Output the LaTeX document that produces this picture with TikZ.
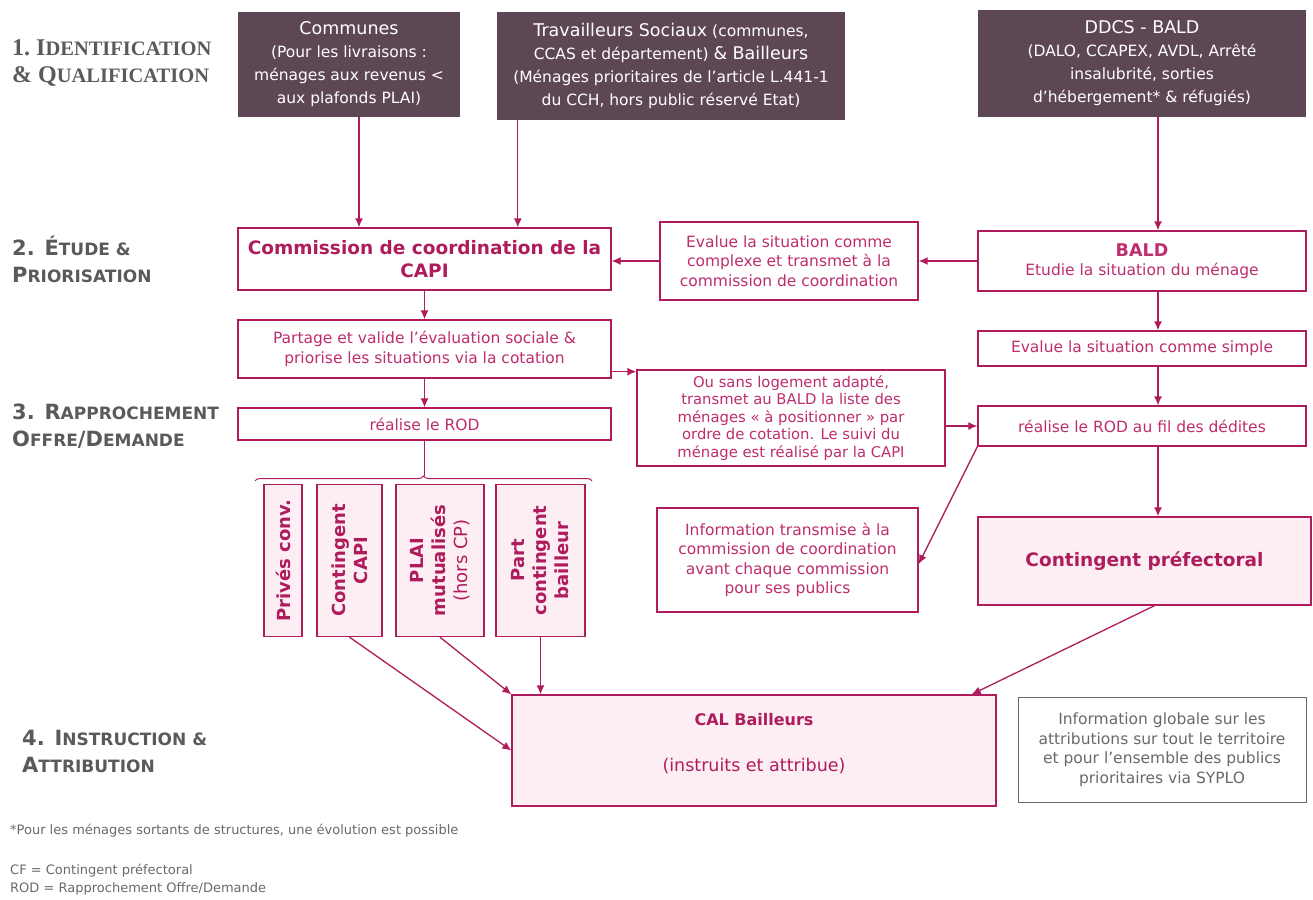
\documentclass[tikz,border=0pt]{standalone}
\usepackage{fontspec}
\setmainfont{DejaVu Sans}
\newfontfamily\titrefont{Liberation Serif}
\usetikzlibrary{arrows.meta,decorations.pathreplacing}

\definecolor{prune}{RGB}{94,71,84}
\definecolor{capi}{RGB}{175,28,92}
\definecolor{capitexte}{RGB}{190,45,110}
\definecolor{rosepale}{RGB}{253,238,244}
\definecolor{grisetape}{RGB}{90,90,90}
\definecolor{grisinfo}{RGB}{105,105,105}

% petites capitales simulees
\newcommand\pc[2]{#1{\fontsize{17}{18}\selectfont#2}}
\newcommand\pcs[2]{#1{\fontsize{20.5}{21}\selectfont#2}}
\newcommand\grand{\fontsize{17.5}{23}\selectfont}
\newcommand\gras{\bfseries\fontsize{17.5}{22}\selectfont}

\tikzset{
  source/.style={fill=prune, text=white, align=center, inner sep=0pt, font=\fontsize{15.5}{23}\selectfont},
  etape/.style={draw=capi, line width=1.3pt, fill=white, text=capitexte, align=center, inner sep=0pt, font=\fontsize{15.5}{19.5}\selectfont},
  rose/.style={etape, fill=rosepale, text=capi, font=\gras},
  vertical/.style={rose, rotate=90, minimum width=152pt, font=\bfseries\fontsize{18}{22}\selectfont},
  titre/.style={anchor=west, align=left, text=grisetape, font=\bfseries\fontsize{21}{27}\selectfont, inner sep=0pt},
  lien/.style={draw=capi, line width=1.3pt, -{Latex[length=9pt,width=8pt]}},
  note/.style={anchor=west, text=grisinfo, font=\fontsize{13}{15}\selectfont, inner sep=0pt}
}

\begin{document}
\begin{tikzpicture}[x=1pt,y=-1pt]
\useasboundingbox (0,0) rectangle (1313,899);

% etapes
\node[titre, font=\titrefont\bfseries\fontsize{24}{27}\selectfont] (t1) at (12,63)
  {1.~\pcs{I}{DENTIFICATION}\\\pcs{\&~Q}{UALIFICATION}};
\node[titre] (t2) at (12,259) {2. \pc{É}{TUDE \&}\\\pc{P}{RIORISATION}};
\node[titre] (t3) at (12,426) {3. \pc{R}{APPROCHEMENT}\\\pc{O}{FFRE}/\pc{D}{EMANDE}};
\node[titre] (t4) at (22,751) {4. \pc{I}{NSTRUCTION \&}\\\pc{A}{TTRIBUTION}};

% sources
\node[source, minimum width=222pt, minimum height=105pt] (com) at (349,64.5)
  {{\grand Communes}\\(Pour les livraisons :\\ménages aux revenus <\\aux plafonds PLAI)};
\node[source, minimum width=348pt, minimum height=108pt] (trav) at (671,66)
  {{\grand Travailleurs Sociaux} (communes,\\CCAS et département) {\grand\& Bailleurs}\\(Ménages prioritaires de l'article L.441-1\\du CCH, hors public réservé Etat)};
\node[source, minimum width=328pt, minimum height=107pt] (ddcs) at (1142,63.5)
  {{\grand DDCS - BALD}\\(DALO, CCAPEX, AVDL, Arrêté\\insalubrité, sorties\\d'hébergement* \& réfugiés)};

% colonne CAPI
\node[etape, minimum width=373pt, minimum height=62pt, text=capi, font=\bfseries\fontsize{18.5}{23}\selectfont] (commission) at (424.5,259)
  {Commission de coordination de la\\CAPI};
\node[etape, minimum width=373pt, minimum height=58pt] (partage) at (424.5,349)
  {Partage et valide l'évaluation sociale \&\\priorise les situations via la cotation};
\node[etape, minimum width=373pt, minimum height=32pt] (rod) at (424.5,424) {réalise le ROD};

% colonne centrale
\node[etape, minimum width=258pt, minimum height=78pt] (complexe) at (789,261)
  {Evalue la situation comme\\complexe et transmet à la\\commission de coordination};
\node[etape, minimum width=308pt, minimum height=96pt, font=\fontsize{14.8}{17.6}\selectfont] (ousans) at (791,418)
  {Ou sans logement adapté,\\transmet au BALD la liste des\\ménages « à positionner » par\\ordre de cotation. Le suivi du\\ménage est réalisé par la CAPI};
\node[etape, minimum width=261pt, minimum height=104pt] (infotr) at (787.5,560)
  {Information transmise à la\\commission de coordination\\avant chaque commission\\pour ses publics};

% colonne BALD
\node[etape, minimum width=328pt, minimum height=60pt] (bald) at (1142,261)
  {{\gras BALD}\\Etudie la situation du ménage};
\node[etape, minimum width=328pt, minimum height=35pt] (simple) at (1142,348.5)
  {Evalue la situation comme simple};
\node[etape, minimum width=328pt, minimum height=40pt] (rodfil) at (1142,426)
  {réalise le ROD au fil des dédites};
\node[rose, minimum width=333pt, minimum height=88pt, font=\bfseries\fontsize{18.5}{22}\selectfont] (prefect) at (1144.5,561)
  {Contingent préfectoral};

% contingents
\node[vertical, minimum height=38pt] (prives) at (283,560.5) {Privés conv.};
\node[vertical, minimum height=65pt] (capiv) at (349.5,560.5) {Contingent\\CAPI};
\node[vertical, minimum height=88pt] (plai) at (440,560.5) {PLAI\\mutualisés\\{\mdseries (hors CP)}};
\node[vertical, minimum height=89pt] (part) at (540.5,560.5) {Part\\contingent\\bailleur};
\draw[capi, line width=1pt, decorate, decoration={brace, amplitude=5pt}] (255,481) -- (592,481);
\draw[capi, line width=1pt] (rod.south) -- ++(0,35);

% attribution
\node[rose, minimum width=484pt, minimum height=111pt, font=\bfseries\fontsize{16}{20}\selectfont] (cal) at (754,750.5)
  {CAL Bailleurs\\[26pt]{\mdseries\fontsize{17.5}{20}\selectfont(instruits et attribue)}\\[-4pt]~};
\node[etape, draw=grisinfo, line width=1pt, text=grisinfo, minimum width=288pt, minimum height=105pt] (global) at (1162,749.5)
  {Information globale sur les\\attributions sur tout le territoire\\et pour l'ensemble des publics\\prioritaires via SYPLO};

% notes
\node[note] (n1) at (10,831) {*Pour les ménages sortants de structures, une évolution est possible};
\node[note] (n2) at (10,871) {CF = Contingent préfectoral};
\node[note] (n3) at (10,889) {ROD = Rapprochement Offre/Demande};

% liens
\coordinate (axe) at (1158,0);
\draw[lien] ([xshift=10pt]com.south) -- ([xshift=10pt]com.south |- commission.north);
\draw[lien] ([xshift=21pt]trav.south west) -- ([xshift=21pt]trav.south west |- commission.north);
\draw[lien] (ddcs.south -| axe) -- (bald.north -| axe);
\draw[lien] (bald.west) -- (complexe.east);
\draw[lien] (complexe.west) -- (complexe.west -| commission.east);
\draw[lien] (commission.south) -- (partage.north);
\draw[lien] (partage.south) -- (rod.north);
\draw[lien] ([yshift=7pt]partage.south east) -- ([yshift=7pt]partage.south east -| ousans.west);
\draw[lien] (bald.south -| axe) -- (simple.north -| axe);
\draw[lien] (simple.south -| axe) -- (rodfil.north -| axe);
\draw[lien] (rodfil.west -| ousans.east) -- (rodfil.west);
\draw[lien] (rodfil.south west) -- ([yshift=-4pt]infotr.east);
\draw[lien] (rodfil.south -| axe) -- (prefect.north -| axe);
\draw[lien] ([xshift=10pt]prefect.south) -- ([xshift=-25pt]cal.north east);
\draw[lien] (capiv.west) -- (cal.west);
\draw[lien] (plai.west) -- (cal.north west);
\draw[lien] (part.west) -- (part.west |- cal.north);
\end{tikzpicture}
\end{document}
